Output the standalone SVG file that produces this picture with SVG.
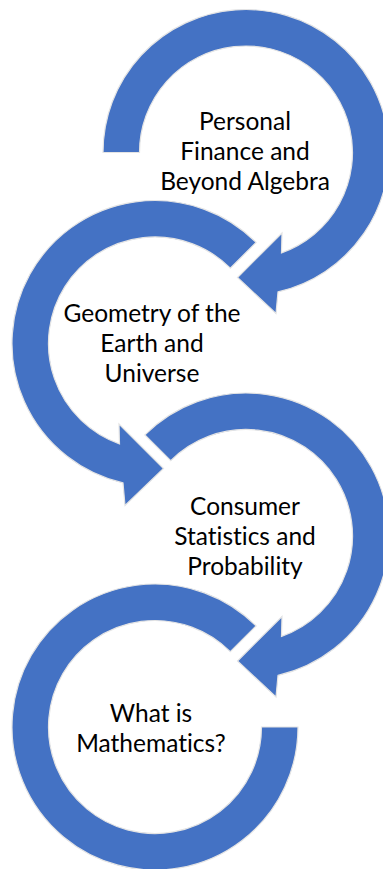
<svg xmlns="http://www.w3.org/2000/svg" width="383" height="869" viewBox="0 0 383 869">
  <style>
    .ring { fill: #4472C4; stroke: #e4e4e4; stroke-width: 1.2; stroke-linejoin: miter; }
    .lbl { font-family: Lato, "Liberation Sans", sans-serif; font-size: 24.5px; fill: #000000; text-anchor: middle; font-variant-ligatures: none; }
  </style>
  <rect width="383" height="869" fill="#ffffff"/>
  <g id="node1">
    <path class="ring" d="M103,152.5 A143,143 0 1 1 278,291.9 L276,313.5 L237.5,277.5 L282,233 L281.5,252.9 A106.5,106.5 0 1 0 139.5,152.5 Z"/>
    <text class="lbl" x="245" y="130">Personal</text>
    <text class="lbl" x="245" y="160">Finance and</text>
    <text class="lbl" x="245" y="189.5">Beyond Algebra</text>
  </g>
  <g id="node2">
    <path class="ring" d="M256.1,242.4 A143,143 0 1 0 123,482.9 L125,505.5 L163.5,468.5 L119,424 L119.5,443.9 A106.5,106.5 0 1 1 230.3,268.2 Z"/>
    <text class="lbl" x="152" y="321.7">Geometry of the</text>
    <text class="lbl" x="152" y="351.7">Earth and</text>
    <text class="lbl" x="152" y="381.7">Universe</text>
  </g>
  <g id="node3">
    <path class="ring" d="M144.9,434.9 A143,143 0 1 1 278,675.4 L276,697 L237.5,661 L282,616.5 L281.5,636.4 A106.5,106.5 0 1 0 170.7,460.7 Z"/>
    <text class="lbl" x="245" y="515">Consumer</text>
    <text class="lbl" x="245" y="545">Statistics and</text>
    <text class="lbl" x="245" y="574.5">Probability</text>
  </g>
  <g id="node4">
    <path class="ring" d="M256.1,625.9 A143,143 0 1 0 298,727 L261.5,727 A106.5,106.5 0 1 1 230.3,651.7 Z"/>
    <text class="lbl" x="151" y="721.7">What is</text>
    <text class="lbl" x="151" y="751.7">Mathematics?</text>
  </g>
  <g id="connectors"></g>
</svg>
